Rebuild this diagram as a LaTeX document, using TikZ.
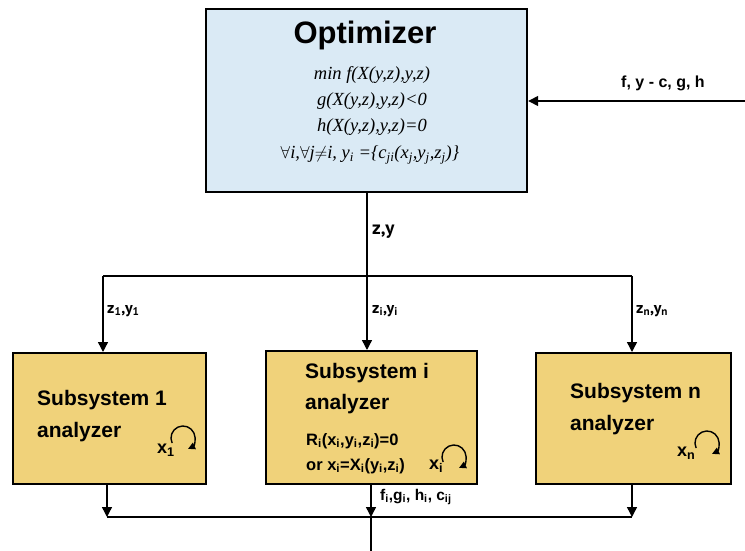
\documentclass[tikz,border=0pt]{standalone}
\usepackage{fontspec}
\setmainfont{Liberation Sans}
\newfontfamily\eqfont{Liberation Serif}
\newfontfamily\lblfont{PT Sans}
\usetikzlibrary{arrows.meta}
\definecolor{optblue}{RGB}{218,234,245}
\definecolor{subyellow}{RGB}{240,210,122}

\begin{document}
\begin{tikzpicture}[x=1pt,y=-1pt,
  box/.style={draw,line width=2.2pt,inner sep=0pt,anchor=north west},
  flow/.style={line width=1.4pt,-{Triangle[length=10pt,width=10pt]}},
  wire/.style={line width=1.4pt},
  eqline/.style={font=\eqfont\itshape\fontsize{18.5}{20}\selectfont},
  boxtext/.style={anchor=west,inner sep=0pt,font=\bfseries\fontsize{21}{23}\selectfont},
  smalltext/.style={anchor=west,inner sep=0pt,font=\bfseries\fontsize{16.5}{18}\selectfont},
  lbl/.style={anchor=west,inner sep=0pt,font=\lblfont\bfseries\fontsize{16}{18}\selectfont},
  selfloop/.style={line width=1.4pt,-{Triangle[length=7pt,width=7pt]}}]
\useasboundingbox (0,0) rectangle (745,551);
% optimizer
\node[box,fill=optblue,minimum width=321pt,minimum height=183pt] (opt) at (205,8) {};
\node (opttitle) at (365,35) {\bfseries\fontsize{31}{33}\selectfont Optimizer};
\node[eqline] (eqa) at (372,75) {min f(X(y,z),y,z)};
\node[eqline] (eqb) at (372,101) {g(X(y,z),y,z)<0};
\node[eqline] (eqc) at (372,127) {h(X(y,z),y,z)=0};
\node[eqline] (eqd) at (370,155) {$\forall$i,$\forall$j$\neq$i, y\textsubscript{i} =\{c\textsubscript{ji}(x\textsubscript{j},y\textsubscript{j},z\textsubscript{j})\}};
% subsystems
\node[box,fill=subyellow,minimum width=193pt,minimum height=131pt] (sys1) at (12,352) {};
\node[box,fill=subyellow,minimum width=211pt,minimum height=133pt] (sysi) at (265,350) {};
\node[box,fill=subyellow,minimum width=195pt,minimum height=131pt] (sysn) at (535,352) {};
\node[boxtext] (sys1a) at (37,400) {Subsystem 1};
\node[boxtext] (sys1b) at (37,432) {analyzer};
\node[boxtext] (sysia) at (305,373) {Subsystem i};
\node[boxtext] (sysib) at (305,404) {analyzer};
\node[smalltext] (sysic) at (306,441) {R\textsubscript{i}(x\textsubscript{i},y\textsubscript{i},z\textsubscript{i})=0};
\node[smalltext] (sysid) at (306,466) {or x\textsubscript{i}=X\textsubscript{i}(y\textsubscript{i},z\textsubscript{i})};
\node[boxtext] (sysna) at (570,393) {Subsystem n};
\node[boxtext] (sysnb) at (570,425) {analyzer};
% internal loops
\draw[selfloop] (183,438) ++(155:12) arc[start angle=155,end angle=425,radius=12];
\node[smalltext,font=\bfseries\fontsize{18}{20}\selectfont] (x1) at (157,450) {x\textsubscript{1}};
\draw[selfloop] (454,457) ++(155:12) arc[start angle=155,end angle=425,radius=12];
\node[smalltext,font=\bfseries\fontsize{18}{20}\selectfont] (xi) at (429,466) {x\textsubscript{i}};
\draw[selfloop] (707,443) ++(155:12) arc[start angle=155,end angle=425,radius=12];
\node[smalltext,font=\bfseries\fontsize{18}{20}\selectfont] (xn) at (677,453) {x\textsubscript{n}};
% feedback into optimizer
\coordinate (feedin) at (745,101);
\draw[flow] (feedin) -- (feedin -| opt.east);
\node[smalltext,font=\bfseries\fontsize{16}{18}\selectfont] (feedlbl) at (621,83) {f, y - c, g, h};
% distribution of z,y
\coordinate (split) at (367,276);
\coordinate (split1) at (103,276);
\coordinate (splitn) at (632,276);
\draw[wire] (opt.south -| split) -- (split);
\draw[wire] (split1) -- (splitn);
\draw[flow] (split1) -- (split1 |- sys1.north);
\draw[flow] (split) -- (split |- sysi.north);
\draw[flow] (splitn) -- (splitn |- sysn.north);
\node[lbl,font=\lblfont\bfseries\fontsize{19}{21}\selectfont] (zylbl) at (372,232) {z,y};
\node[lbl] (zy1) at (107,311) {z\textsubscript{1},y\textsubscript{1}};
\node[lbl] (zyi) at (372,311) {z\textsubscript{i},y\textsubscript{i}};
\node[lbl] (zyn) at (636,311) {z\textsubscript{n},y\textsubscript{n}};
% collection of outputs
\coordinate (merge1) at (107,517);
\coordinate (merge) at (371,517);
\coordinate (mergen) at (632,517);
\coordinate (outend) at (371,551);
\draw[wire] (merge1) -- (mergen);
\draw[flow] (sys1.south -| merge1) -- (merge1);
\draw[flow] (sysi.south -| merge) -- (merge);
\draw[flow] (sysn.south -| mergen) -- (mergen);
\draw[wire] (merge) -- (outend);
\node[smalltext,font=\bfseries\fontsize{15.5}{17}\selectfont] (outlbl) at (380,497) {f\textsubscript{i},g\textsubscript{i}, h\textsubscript{i}, c\textsubscript{ij}};
\end{tikzpicture}
\end{document}
